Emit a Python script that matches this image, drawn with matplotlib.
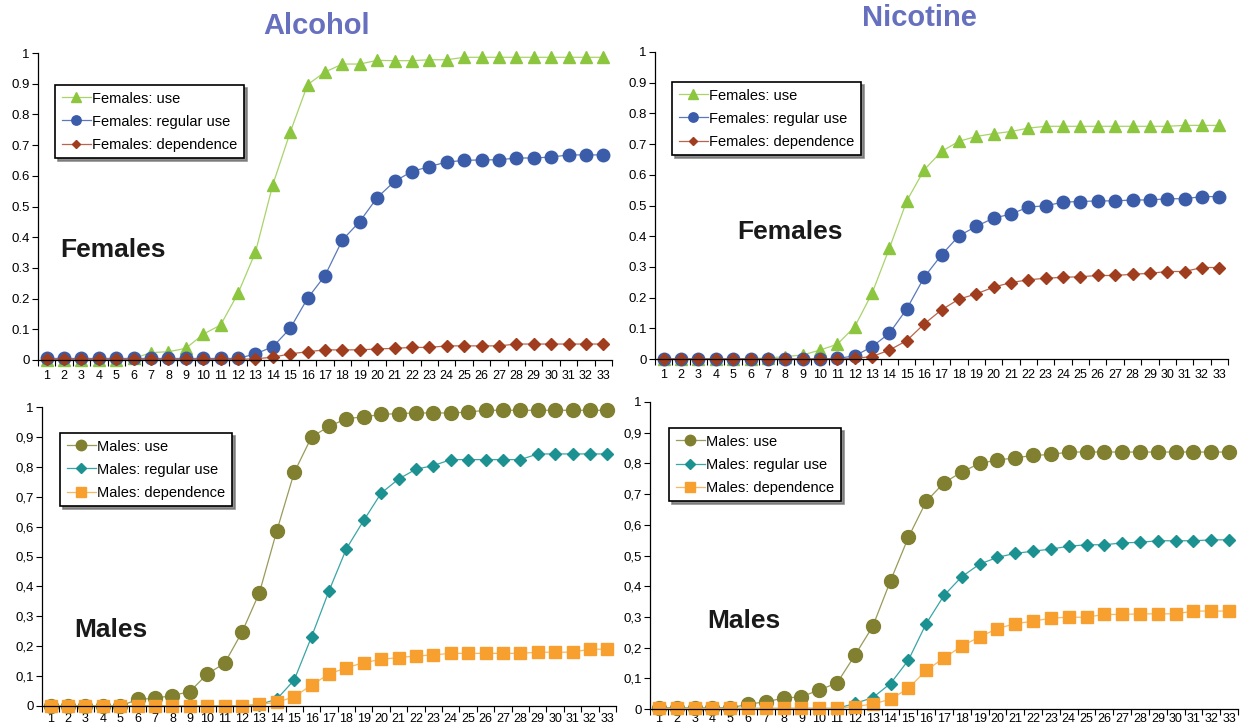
import matplotlib
matplotlib.use("Agg")
import matplotlib.pyplot as plt

plt.rcParams['font.family'] = ['Liberation Sans', 'DejaVu Sans']

ages = list(range(1, 34))

# females
alc_f_use = [0, 0, 0, 0, 0, 0.005, 0.024, 0.027, 0.038, 0.084, 0.114, 0.217, 0.351, 0.571,
             0.742, 0.897, 0.938, 0.964, 0.964, 0.976, 0.975, 0.975, 0.978, 0.978,
             0.986, 0.986, 0.986, 0.986, 0.986, 0.986, 0.986, 0.986, 0.986]
alc_f_reg = [0.005] * 12 + [0.02, 0.043, 0.103, 0.201, 0.275, 0.391, 0.451, 0.529, 0.582, 0.614,
                            0.630, 0.645, 0.650, 0.652, 0.652, 0.658, 0.658, 0.661, 0.668, 0.668, 0.668]
alc_f_dep = [0.002] * 12 + [0.004, 0.009, 0.02, 0.027, 0.033, 0.033, 0.033, 0.036, 0.038, 0.041, 0.041,
                            0.046, 0.046, 0.046, 0.046, 0.052, 0.052, 0.052, 0.052, 0.052, 0.052]
nic_f_use = [0, 0, 0, 0, 0, 0.001, 0.003, 0.008, 0.013, 0.029, 0.048, 0.105, 0.214, 0.361,
             0.515, 0.616, 0.676, 0.709, 0.725, 0.734, 0.741, 0.752,
             0.758, 0.758, 0.758, 0.758, 0.758, 0.758, 0.758, 0.758, 0.761, 0.761, 0.761]
nic_f_reg = [0] * 10 + [0.002, 0.01, 0.04, 0.084, 0.163, 0.266, 0.339, 0.401, 0.432, 0.459,
                        0.472, 0.495, 0.499, 0.511, 0.513, 0.515, 0.515, 0.518, 0.518, 0.522,
                        0.522, 0.529, 0.529]
nic_f_dep = [0] * 11 + [0.002, 0.008, 0.029, 0.06, 0.114, 0.16, 0.195, 0.212, 0.234, 0.249,
                        0.258, 0.263, 0.266, 0.268, 0.272, 0.272, 0.276, 0.279, 0.285, 0.285,
                        0.298, 0.298]

# males
alc_m_use = [0] * 5 + [0.022, 0.026, 0.035, 0.048, 0.107, 0.143, 0.247, 0.379, 0.586, 0.781,
                       0.9, 0.935, 0.961, 0.967, 0.975, 0.978, 0.98, 0.98, 0.98, 0.983] + [0.989] * 8
alc_m_reg = [0] * 12 + [0.005, 0.023, 0.087, 0.232, 0.385, 0.526, 0.621, 0.712, 0.759, 0.792,
                        0.804] + [0.824] * 5 + [0.843] * 5
alc_m_dep = [0] * 12 + [0.006, 0.012, 0.031, 0.07, 0.107, 0.128, 0.145, 0.156, 0.162, 0.167,
                        0.171] + [0.176] * 5 + [0.18] * 3 + [0.19] * 2
nic_m_use = [0.004] * 5 + [0.015, 0.024, 0.035, 0.04, 0.062, 0.085, 0.175, 0.269, 0.418, 0.559,
                           0.676, 0.737, 0.772, 0.8, 0.811, 0.818, 0.826, 0.829] + [0.837] * 10
nic_m_reg = [0.002] * 11 + [0.018, 0.037, 0.083, 0.159, 0.278, 0.37, 0.431, 0.472, 0.494, 0.507,
                            0.514, 0.521, 0.53, 0.535, 0.535, 0.541, 0.543, 0.548, 0.548, 0.548,
                            0.551, 0.551]
nic_m_dep = [0.002] * 11 + [0.008, 0.016, 0.032, 0.067, 0.126, 0.166, 0.205, 0.235, 0.262, 0.278,
                            0.286, 0.296, 0.299, 0.299, 0.308, 0.308, 0.31, 0.31, 0.31, 0.319,
                            0.319, 0.319]

yticks = [0, 0.1, 0.2, 0.3, 0.4, 0.5, 0.6, 0.7, 0.8, 0.9, 1]
ylabels_dot = ["0", "0.1", "0.2", "0.3", "0.4", "0.5", "0.6", "0.7", "0.8", "0.9", "1"]
ylabels_comma = ["0", "0,1", "0,2", "0,3", "0,4", "0,5", "0,6", "0,7", "0,8", "0,9", "1"]

f_labels = ["Females: use", "Females: regular use", "Females: dependence"]
m_labels = ["Males: use", "Males: regular use", "Males: dependence"]

# marker colour, line colour, marker shape, marker size
f_styles = [dict(color="#8cc63f", lc="#a8d46a", marker="^", ms=9),
            dict(color="#3b5ca9", lc="#5a78bb", marker="o", ms=9),
            dict(color="#a13d1f", lc="#b8654c", marker="D", ms=6)]
m_styles = [dict(color="#808030", lc="#9a9a5a", marker="o", ms=10),
            dict(color="#1b9191", lc="#3aa5a5", marker="D", ms=6.5),
            dict(color="#f7a030", lc="#f8b860", marker="s", ms=9)]

narrow = ['Liberation Sans Narrow', 'Liberation Sans', 'DejaVu Sans']

W, H = 1242, 728
fig = plt.figure(figsize=(W / 100, H / 100), dpi=100)


def px_axes(l, t, r, b):
    return fig.add_axes([l / W, 1 - b / H, (r - l) / W, (b - t) / H])


def panel(ax, series, labels, styles, ylabels, xpad, leg_xy, tag, tag_xy):
    for s, lab, st in zip(series, labels, styles):
        ax.plot(ages, s, color=st["lc"], lw=0.9, marker=st["marker"], ms=st["ms"],
                mfc=st["color"], mec=st["color"], label=lab, clip_on=False)
    ax.set_xlim(0.5, 33.5)
    ax.set_ylim(0, 1)
    ax.set_xticks(ages)
    ax.set_xticklabels([str(a) for a in ages], fontsize=9, family=narrow)
    # category axis: ticks sit between the categories
    ax.set_xticks([a + 0.5 for a in range(0, 34)], minor=True)
    ax.tick_params(axis="x", which="major", length=0, pad=xpad)
    ax.tick_params(axis="x", which="minor", length=4, direction="out", width=0.8)
    ax.set_yticks(yticks)
    ax.set_yticklabels(ylabels, fontsize=9.5, family=narrow)
    ax.tick_params(axis="y", length=4, direction="out", width=0.8, pad=2)
    for sp in ("top", "right"):
        ax.spines[sp].set_visible(False)
    for sp in ("left", "bottom"):
        ax.spines[sp].set_linewidth(0.9)
    leg = ax.legend(loc="upper left", bbox_to_anchor=(leg_xy[0] / W, 1 - leg_xy[1] / H),
                    bbox_transform=fig.transFigure, borderaxespad=0, fancybox=False,
                    frameon=True, edgecolor="black", fontsize=10.5, markerscale=0.75,
                    handlelength=2.0, handletextpad=0.1, labelspacing=0.62,
                    borderpad=0.45, shadow={"color": "0.45", "alpha": 0.8})
    leg.get_frame().set_linewidth(1.2)
    fig.text(tag_xy[0] / W, 1 - tag_xy[1] / H, tag, fontsize=19, fontweight="bold",
             color="#1a1a1a", va="center", ha="left")


ax1 = px_axes(38, 53, 612, 360)
panel(ax1, [alc_f_use, alc_f_reg, alc_f_dep], f_labels, f_styles, ylabels_dot, 7,
      (55, 85), "Females", (60, 250))
ax2 = px_axes(655, 52, 1228, 359)
panel(ax2, [nic_f_use, nic_f_reg, nic_f_dep], f_labels, f_styles, ylabels_dot, 7,
      (672, 82), "Females", (737, 232))
ax3 = px_axes(42, 407, 616, 706)
panel(ax3, [alc_m_use, alc_m_reg, alc_m_dep], m_labels, m_styles, ylabels_comma, 5,
      (60, 433), "Males", (74, 630))
ax4 = px_axes(650, 402, 1238, 709)
panel(ax4, [nic_m_use, nic_m_reg, nic_m_dep], m_labels, m_styles, ylabels_comma, 3,
      (669, 428), "Males", (707, 621))

title_color = "#6670bf"
fig.text(317 / W, 1 - 26 / H, "Alcohol", fontsize=21, fontweight="bold",
         color=title_color, ha="center", va="center")
fig.text(919 / W, 1 - 18 / H, "Nicotine", fontsize=21, fontweight="bold",
         color=title_color, ha="center", va="center")

fig.savefig("out.png", dpi=100)
